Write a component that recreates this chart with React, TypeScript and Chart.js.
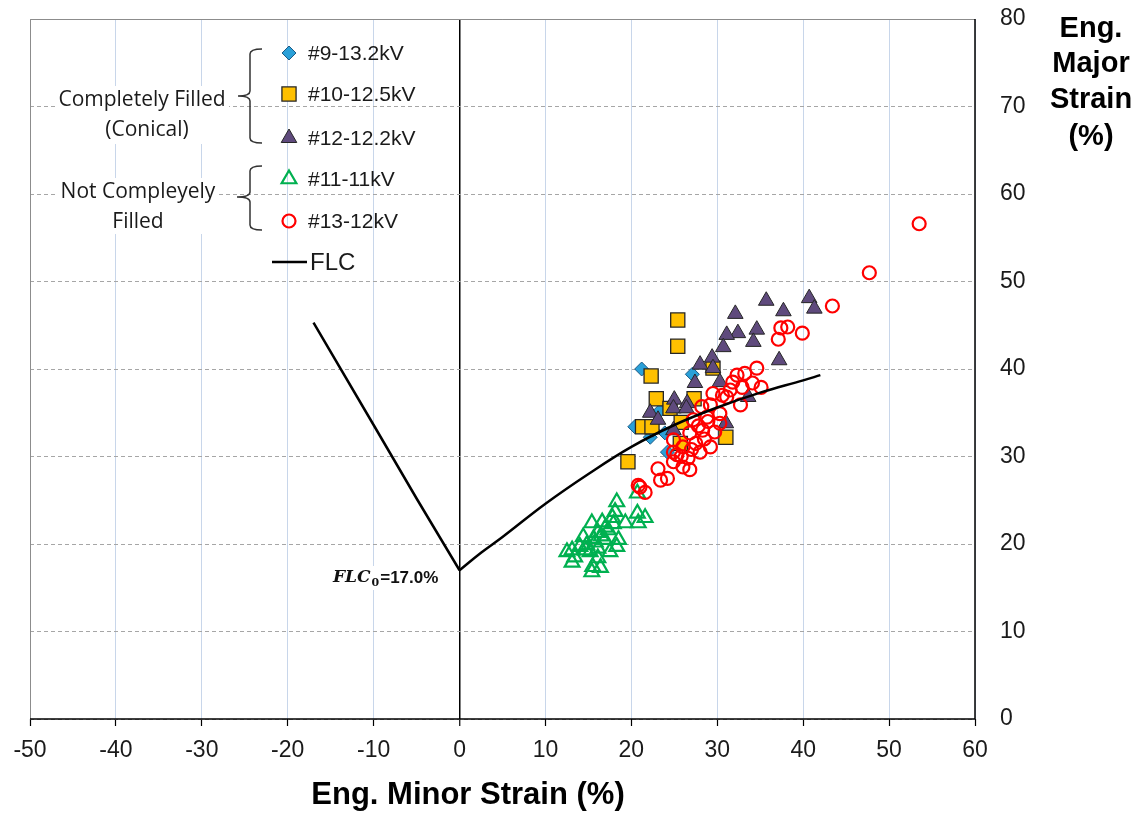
import React, { useEffect, useRef } from 'react';
import { Chart, registerables } from 'chart.js';
import * as helpers from 'chart.js/helpers';

Chart.register(...registerables);

// ---- axis ranges ----
const xMin = -50;
const xMax = 60;
const yMin = 0;
const yMax = 80;
const tickStep = 10;

// ---- series (minor strain %, major strain %) ----
const s9_132kV: [number, number][] = [
  [21.2, 40.0], [27.1, 39.4], [20.4, 33.4], [22.2, 32.2], [23.3, 35.2],
  [23.9, 32.7], [24.2, 30.5], [22.5, 33.0],
];

const s10_125kV: [number, number][] = [
  [25.4, 45.6], [25.4, 42.6], [22.3, 39.2], [22.9, 36.6], [24.5, 35.5],
  [27.3, 36.6], [29.5, 40.1], [21.3, 33.4], [22.4, 33.4], [25.8, 33.9],
  [31.0, 32.2], [19.6, 29.4], [25.7, 31.5],
];

const s12_122kV: [number, number][] = [
  [35.7, 47.8], [40.7, 48.1], [41.3, 46.9], [37.7, 46.6], [32.1, 46.3],
  [34.6, 44.5], [32.4, 44.1], [31.1, 43.9], [34.2, 43.1], [30.7, 42.5],
  [29.4, 41.3], [28.0, 40.5], [37.2, 41.0], [29.5, 40.1], [27.4, 38.4],
  [30.3, 38.5], [33.6, 36.8], [25.0, 36.5], [26.5, 36.1], [22.2, 35.0],
  [23.1, 34.2], [24.9, 33.0], [31.0, 33.8], [24.9, 35.5], [26.4, 35.5],
];

const s11_11kV: [number, number][] = [
  [18.3, 24.8], [18.1, 23.7], [17.8, 23.0], [20.7, 23.5], [21.6, 23.0],
  [20.8, 22.4], [19.3, 22.4], [15.4, 22.4], [16.6, 22.5], [17.3, 21.6],
  [16.1, 21.3], [14.4, 20.8], [16.9, 20.5], [15.8, 20.2], [18.3, 19.7],
  [14.8, 19.9], [14.0, 19.7], [13.1, 19.3], [12.5, 19.1], [17.5, 19.1],
  [13.4, 18.5], [13.1, 17.9], [16.1, 18.4], [15.5, 17.4], [16.4, 17.3],
  [15.4, 16.8], [18.5, 20.5], [16.1, 19.5], [15.2, 19.1], [20.7, 25.8],
  [17.0, 21.9], [16.5, 20.9], [14.7, 19.3], [15.6, 20.6], [17.9, 22.3],
];

const s13_12kV: [number, number][] = [
  [53.5, 56.6], [47.7, 51.0], [43.4, 47.2], [37.4, 44.7], [38.2, 44.8],
  [37.1, 43.4], [39.9, 44.1], [34.6, 40.1], [33.2, 39.5], [35.1, 37.9],
  [34.1, 38.4], [32.3, 39.3], [32.9, 37.9], [31.5, 37.6], [30.6, 37.0],
  [32.7, 35.9], [31.1, 36.8], [29.2, 35.9], [28.2, 35.7], [30.3, 34.9],
  [28.8, 34.5], [27.2, 34.2], [28.3, 33.0], [26.8, 32.7], [24.9, 31.9],
  [26.0, 31.1], [29.2, 31.1], [28.0, 30.5], [25.3, 30.2], [26.6, 29.8],
  [24.9, 29.4], [26.0, 28.8], [26.8, 28.5], [23.1, 28.6], [24.2, 27.5],
  [23.4, 27.3], [29.7, 32.8], [24.9, 30.5], [30.3, 33.8], [21.0, 26.5],
  [21.6, 25.9], [20.8, 26.7], [27.8, 33.5], [28.5, 32.0], [27.5, 31.5],
  [25.8, 30.0], [27.0, 30.8], [29.5, 37.2], [31.8, 38.5], [28.9, 34.0],
];

// ---- forming limit curve ----
const flcLeft: [number, number][] = [[-17, 45.3], [-10, 33.6], [-5, 25.2], [0, 17.0]];
const flcRight: [number, number][] = [
  [0, 17.0], [2.5, 19.0], [5, 20.8], [10, 24.6], [15, 28.0], [20, 31.1],
  [25, 33.6], [30, 35.6], [35, 37.3], [40, 38.7], [42, 39.3],
];

const legendLabels = ['#9-13.2kV', '#10-12.5kV', '#12-12.2kV', '#11-11kV', '#13-12kV', 'FLC'];
const groupLabels = [['Completely Filled', '(Conical)'], ['Not Compleyely', 'Filled']];
const xTitle = 'Eng. Minor Strain (%)';
const yTitleLines = ['Eng.', 'Major', 'Strain', '(%)'];

const toPts = (a: [number, number][]) => a.map(([x, y]) => ({ x, y }));

const SANS = "'Liberation Sans', Arial, sans-serif";

const markerStyles = [
  { pointStyle: 'rectRot', radius: 7, fill: '#2aa0d8', stroke: '#1c5a85', bw: 1 },
  { pointStyle: 'rect', radius: 10, fill: '#ffc000', stroke: '#262626', bw: 1.3 },
  { pointStyle: 'triangle', radius: 9, fill: '#5f4a7d', stroke: '#262626', bw: 1 },
  { pointStyle: 'triangle', radius: 8.5, fill: 'rgba(255,255,255,0)', stroke: '#00b050', bw: 2.2 },
  { pointStyle: 'circle', radius: 6.5, fill: 'rgba(255,255,255,0)', stroke: '#ff0000', bw: 2.2 },
];

const decorPlugin = {
  id: 'decor',
  afterDraw(chart: any) {
    const ctx: CanvasRenderingContext2D = chart.ctx;
    const { left, right, top, bottom } = chart.chartArea;
    ctx.save();

    // frame
    ctx.strokeStyle = '#8c8c8c';
    ctx.lineWidth = 1;
    ctx.beginPath();
    ctx.moveTo(left + 0.5, bottom);
    ctx.lineTo(left + 0.5, top + 0.5);
    ctx.lineTo(right, top + 0.5);
    ctx.stroke();
    ctx.strokeStyle = '#000';
    ctx.lineWidth = 1.5;
    ctx.beginPath();
    ctx.moveTo(left, bottom);
    ctx.lineTo(right, bottom);
    ctx.moveTo(right, bottom);
    ctx.lineTo(right, top);
    ctx.stroke();

    // group label boxes
    ctx.fillStyle = '#fff';
    ctx.fillRect(55, 86, 174, 58);
    ctx.fillRect(58, 178, 161, 56);
    ctx.font = `21px 'Open Sans', sans-serif`;
    ctx.fillStyle = '#1a1a1a';
    ctx.textAlign = 'center';
    ctx.textBaseline = 'middle';
    ctx.fillText(groupLabels[0][0], 142, 100);
    ctx.fillText(groupLabels[0][1], 147, 130);
    ctx.fillText(groupLabels[1][0], 138, 192);
    ctx.fillText(groupLabels[1][1], 138, 222);

    // braces
    const brace = (xTip: number, xLine: number, xEnd: number, yTop: number, yMid: number, yBot: number) => {
      ctx.beginPath();
      ctx.moveTo(xEnd, yTop);
      ctx.quadraticCurveTo(xLine, yTop, xLine, yTop + 5);
      ctx.lineTo(xLine, yMid - 5);
      ctx.quadraticCurveTo(xLine, yMid, xTip, yMid);
      ctx.quadraticCurveTo(xLine, yMid, xLine, yMid + 5);
      ctx.lineTo(xLine, yBot - 5);
      ctx.quadraticCurveTo(xLine, yBot, xEnd, yBot);
      ctx.stroke();
    };
    ctx.strokeStyle = '#333';
    ctx.lineWidth = 1.5;
    brace(238, 250, 262, 49, 96, 143);
    brace(237, 250, 262, 166, 197, 230);

    // legend
    const rows = [53, 94, 138, 179, 221];
    markerStyles.forEach((m, i) => {
      ctx.fillStyle = m.fill;
      ctx.strokeStyle = m.stroke;
      ctx.lineWidth = m.bw;
      (helpers as any).drawPoint(ctx, { pointStyle: m.pointStyle, radius: m.radius, rotation: 0, borderWidth: m.bw }, 289, rows[i]);
    });
    ctx.fillStyle = '#1a1a1a';
    ctx.textAlign = 'left';
    ctx.font = `21px ${SANS}`;
    rows.forEach((y, i) => ctx.fillText(legendLabels[i], 308, y + 1));
    ctx.strokeStyle = '#000';
    ctx.lineWidth = 2.5;
    ctx.beginPath();
    ctx.moveTo(272, 262);
    ctx.lineTo(307, 262);
    ctx.stroke();
    ctx.font = `24px ${SANS}`;
    ctx.fillText(legendLabels[5], 310, 263);

    // FLC0 annotation
    ctx.fillStyle = '#fff';
    ctx.fillRect(331, 566, 113, 24);
    ctx.fillStyle = '#111';
    ctx.textAlign = 'left';
    ctx.font = `italic bold 17px 'DejaVu Serif', serif`;
    ctx.fillText('FLC', 333, 578);
    const w = ctx.measureText('FLC').width;
    ctx.font = `bold 11px 'DejaVu Serif', serif`;
    ctx.fillText('0', 333 + w + 1, 583);
    const w2 = ctx.measureText('0').width;
    ctx.font = `bold 17px ${SANS}`;
    ctx.fillText('=17.0%', 333 + w + w2 + 2, 578);

    // axis titles
    ctx.fillStyle = '#000';
    ctx.textAlign = 'center';
    ctx.font = `bold 31px ${SANS}`;
    ctx.fillText(xTitle, 468, 795);
    ctx.font = `bold 29px ${SANS}`;
    const ys = [29, 64, 100, 137];
    yTitleLines.forEach((t, i) => ctx.fillText(t, 1091, ys[i]));

    ctx.restore();
  },
};

export default function App() {
  const ref = useRef<HTMLCanvasElement | null>(null);

  useEffect(() => {
    document.body.style.margin = '0';
    if (!ref.current) return;
    const mk = (label: string, data: [number, number][], i: number, order: number) => {
      const m = markerStyles[i];
      return {
        type: 'scatter' as const,
        label,
        data: toPts(data),
        pointStyle: m.pointStyle,
        pointRadius: m.radius,
        pointBackgroundColor: m.fill,
        pointBorderColor: m.stroke,
        pointBorderWidth: m.bw,
        pointHoverRadius: m.radius,
        showLine: false,
        order,
      };
    };
    const chart = new Chart(ref.current, {
      type: 'scatter',
      data: {
        datasets: [
          {
            type: 'line' as const,
            label: 'FLC',
            data: toPts(flcLeft),
            borderColor: '#000',
            borderWidth: 2.5,
            pointRadius: 0,
            tension: 0,
            showLine: true,
            order: -2,
          },
          {
            type: 'line' as const,
            label: 'FLC right',
            data: toPts(flcRight),
            borderColor: '#000',
            borderWidth: 2.5,
            pointRadius: 0,
            tension: 0.4,
            showLine: true,
            order: -1,
          },
          mk(legendLabels[0], s9_132kV, 0, 5),
          mk(legendLabels[1], s10_125kV, 1, 4),
          mk(legendLabels[2], s12_122kV, 2, 3),
          mk(legendLabels[3], s11_11kV, 3, 2),
          mk(legendLabels[4], s13_12kV, 4, 1),
        ] as any,
      },
      options: {
        animation: false,
        responsive: false,
        layout: { padding: { left: 30, top: 19, right: 0, bottom: 0 } },
        plugins: { legend: { display: false }, tooltip: { enabled: false }, title: { display: false } },
        scales: {
          x: {
            type: 'linear',
            position: 'bottom',
            min: xMin,
            max: xMax,
            afterFit: (s: any) => { s.height = 95; s.paddingLeft = 0; s.paddingRight = 0; },
            ticks: {
              stepSize: tickStep,
              color: '#1a1a1a',
              font: { family: SANS, size: 23 },
              padding: 11,
              maxRotation: 0,
            },
            grid: {
              color: (c: any) => (c.tick && c.tick.value === 0 ? '#000' : '#c8d6ea'),
              lineWidth: (c: any) => (c.tick && c.tick.value === 0 ? 1.5 : 1),
              drawTicks: true,
              tickLength: 7,
              tickColor: '#000',
              tickWidth: 1.2,
            },
            border: { display: false },
          },
          y: {
            type: 'linear',
            position: 'right',
            min: yMin,
            max: yMax,
            afterFit: (s: any) => { s.width = 170; s.paddingTop = 0; s.paddingBottom = 0; },
            ticks: {
              stepSize: tickStep,
              color: '#1a1a1a',
              font: { family: SANS, size: 23 },
              padding: 25,
            },
            grid: {
              color: '#a6a6a6',
              lineWidth: 1,
              drawTicks: false,
            },
            border: { display: false, dash: [4, 3] },
          },
        },
      } as any,
      plugins: [decorPlugin],
    });
    return () => chart.destroy();
  }, []);

  return (
    <div style={{ width: 1145, height: 814 }}>
      <canvas ref={ref} width={1145} height={814} style={{ display: 'block' }} />
    </div>
  );
}
